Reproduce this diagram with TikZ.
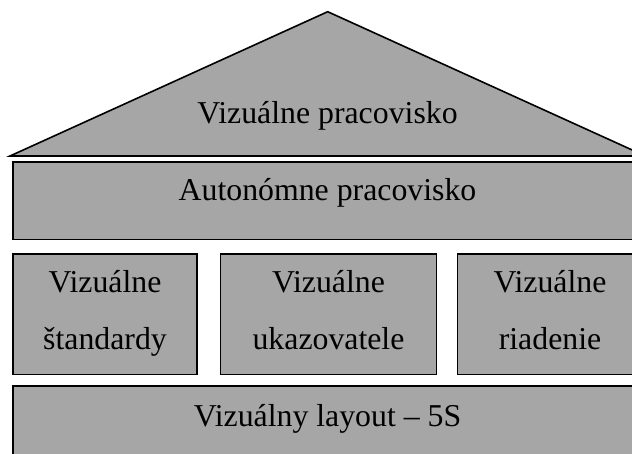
\documentclass[tikz,border=0pt]{standalone}
\usepackage{fontspec}
\setmainfont{Liberation Serif}
\definecolor{boxgray}{HTML}{A6A6A6}
\begin{document}
\begin{tikzpicture}[x=1pt,y=-1pt,
  block/.style={draw=black, fill=boxgray, line width=1.6pt, inner sep=0pt, outer sep=0pt, anchor=north west},
  lbl/.style={anchor=base, inner sep=0pt, font=\fontsize{31.8}{40}\selectfont}]
\useasboundingbox (0,0) rectangle (632,453);
\clip (0,0) rectangle (632,453);
% roof
\draw[block, line join=miter] (10,156) -- (327.7,11.7) -- (645.4,156) -- cycle;
\node[lbl] (roof) at (327.5,123) {Vizuálne pracovisko};
% autonomous workplace
\node[block, minimum width=629.6pt, minimum height=77.5pt] (auto) at (12.7,162) {};
\node[lbl] (autot) at (327.5,200.7) {Autonómne pracovisko};
% pillars
\node[block, minimum width=184pt, minimum height=120.5pt] (p1) at (13,254) {};
\node[block, minimum width=216pt, minimum height=120.5pt] (p2) at (220.5,254) {};
\node[block, minimum width=184pt, minimum height=120.5pt] (p3) at (457.5,254) {};
\node[lbl] (p1a) at (105,292.7) {Vizuálne};
\node[lbl] (p1b) at (105,349.3) {štandardy};
\node[lbl] (p2a) at (328.5,292.7) {Vizuálne};
\node[lbl] (p2b) at (328.5,349.3) {ukazovatele};
\node[lbl] (p3a) at (550,292.7) {Vizuálne};
\node[lbl] (p3b) at (550,349.3) {riadenie};
% foundation
\node[block, minimum width=629.6pt, minimum height=100pt] (base) at (12.7,386) {};
\node[lbl] (baset) at (327.5,426.7) {Vizuálny layout – 5S};
\end{tikzpicture}
\end{document}
